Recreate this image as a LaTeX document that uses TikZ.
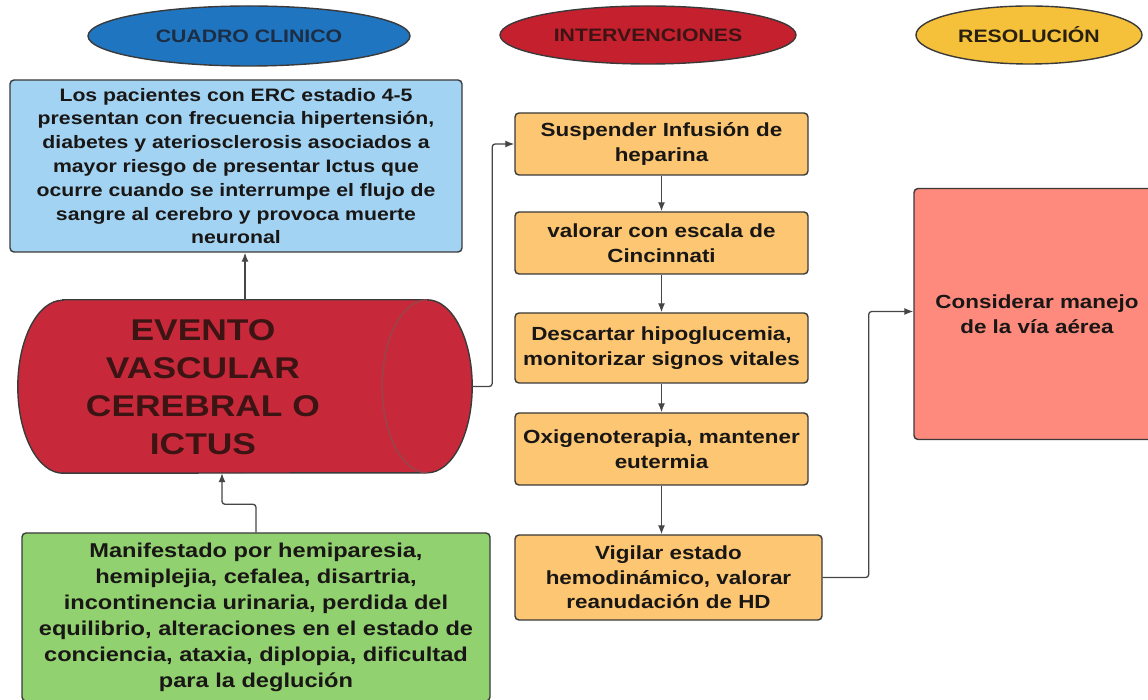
\documentclass[tikz,border=0pt]{standalone}
\usepackage{fontspec}
\setmainfont[FakeStretch=1.18]{Liberation Sans}
\usepackage{xcolor}
\usetikzlibrary{arrows.meta,shapes.geometric}

\definecolor{hblue}{RGB}{31,117,192}
\definecolor{hbluetxt}{RGB}{28,45,68}
\definecolor{hred}{RGB}{196,32,46}
\definecolor{hredtxt}{RGB}{60,20,20}
\definecolor{hyel}{RGB}{246,193,58}
\definecolor{hyeltxt}{RGB}{40,32,16}
\definecolor{cuadro}{RGB}{162,211,242}
\definecolor{cylred}{RGB}{200,41,58}
\definecolor{cylrim}{RGB}{150,70,75}
\definecolor{verde}{RGB}{146,209,111}
\definecolor{naranja}{RGB}{252,198,114}
\definecolor{salmon}{RGB}{253,138,125}
\definecolor{linegray}{RGB}{58,58,58}
\definecolor{conn}{RGB}{70,70,70}
\definecolor{txt}{RGB}{25,22,22}

\begin{document}
\begin{tikzpicture}[x=1pt,y=1pt,>={Latex[length=9pt,width=7pt]},
  box/.style={draw=linegray,line width=1.4pt,rounded corners=4pt,align=center,inner sep=0pt,
    text=txt,font=\bfseries\fontsize{19}{24.5}\selectfont},
  head/.style={ellipse,draw=linegray,line width=1.4pt,inner sep=0pt,
    font=\bfseries\fontsize{18}{21}\selectfont},
  link/.style={->,draw=conn,line width=1.3pt,rounded corners=3pt}]
  \useasboundingbox[fill=white] (0,0) rectangle (1148,699);

  \node[head,fill=hblue,text=hbluetxt,minimum width=322pt,minimum height=60pt] (hclin) at (249,663) {CUADRO CLINICO};
  \node[head,fill=hred,text=hredtxt,minimum width=296pt,minimum height=58pt] (hint) at (648,664) {INTERVENCIONES};
  \node[head,fill=hyel,text=hyeltxt,minimum width=226pt,minimum height=58pt] (hres) at (1029,664) {RESOLUCIÓN};

  \node[box,fill=cuadro,minimum width=452pt,minimum height=172pt,font=\bfseries\fontsize{18}{23.8}\selectfont] (clin) at (236,533)
    {Los pacientes con ERC estadio 4-5\\presentan con frecuencia hipertensión,\\diabetes y ateriosclerosis asociados a\\mayor riesgo de presentar Ictus que\\ocurre cuando se interrumpe el flujo de\\sangre al cerebro y provoca muerte\\neuronal};

  \node[minimum width=454pt,minimum height=173pt,inner sep=0pt] (evt) at (245,312.5) {};
  \draw[draw=linegray,line width=1.4pt,fill=cylred] ([xshift=45pt]evt.north west) -- ([xshift=-45pt]evt.north east)
    arc[start angle=90,end angle=-90,x radius=45pt,y radius=86.5pt] -- ([xshift=45pt]evt.south west)
    arc[start angle=270,end angle=90,x radius=45pt,y radius=86.5pt] -- cycle;
  \draw[draw=cylrim,line width=1.4pt] ([xshift=-45pt]evt.north east)
    arc[start angle=90,end angle=270,x radius=45pt,y radius=86.5pt];
  \node[align=center,text=hredtxt,font=\bfseries\fontsize{30}{38}\selectfont] (evtlbl) at (203,312)
    {EVENTO\\VASCULAR\\CEREBRAL O\\ICTUS};

  \node[box,fill=verde,minimum width=468pt,minimum height=168pt,font=\bfseries\fontsize{20}{26}\selectfont] (sint) at (256,82)
    {Manifestado por hemiparesia,\\hemiplejia, cefalea, disartria,\\incontinencia urinaria, perdida del\\equilibrio, alteraciones en el estado de\\conciencia, ataxia, diplopia, dificultad\\para la deglución};

  \node[box,fill=naranja,minimum width=293pt,minimum height=62pt] (b1) at (661.5,555) {Suspender Infusión de\\heparina};
  \node[box,fill=naranja,minimum width=293pt,minimum height=62pt] (b2) at (661.5,456) {valorar con escala de\\Cincinnati};
  \node[box,fill=naranja,minimum width=293pt,minimum height=70pt] (b3) at (661.5,351) {Descartar hipoglucemia,\\monitorizar signos vitales};
  \node[box,fill=naranja,minimum width=293pt,minimum height=72pt] (b4) at (661.5,250) {Oxigenoterapia, mantener\\eutermia};
  \node[box,fill=naranja,minimum width=307pt,minimum height=85pt] (b5) at (668.5,121.5) {Vigilar estado\\hemodinámico, valorar\\reanudación de HD};

  \node[box,fill=salmon,minimum width=246pt,minimum height=251pt] (res) at (1037,385) {Considerar manejo\\de la vía aérea};

  \draw[link] (evt.north) -- (evt.north |- clin.south);
  \draw[link] (sint.north) -- ++(0,28) -| ([xshift=-23pt]evt.south);
  \draw[link] (evt.east) -- ++(20,0) |- (b1.west);
  \draw[link] (b1) -- (b2);
  \draw[link] (b2) -- (b3);
  \draw[link] (b3) -- (b4);
  \draw[link] (b4.south) -- (b4.south |- b5.north);
  \draw[link] (b5.east) -- ++(46,0) |- ([yshift=2.5pt]res.west);
\end{tikzpicture}
\end{document}
